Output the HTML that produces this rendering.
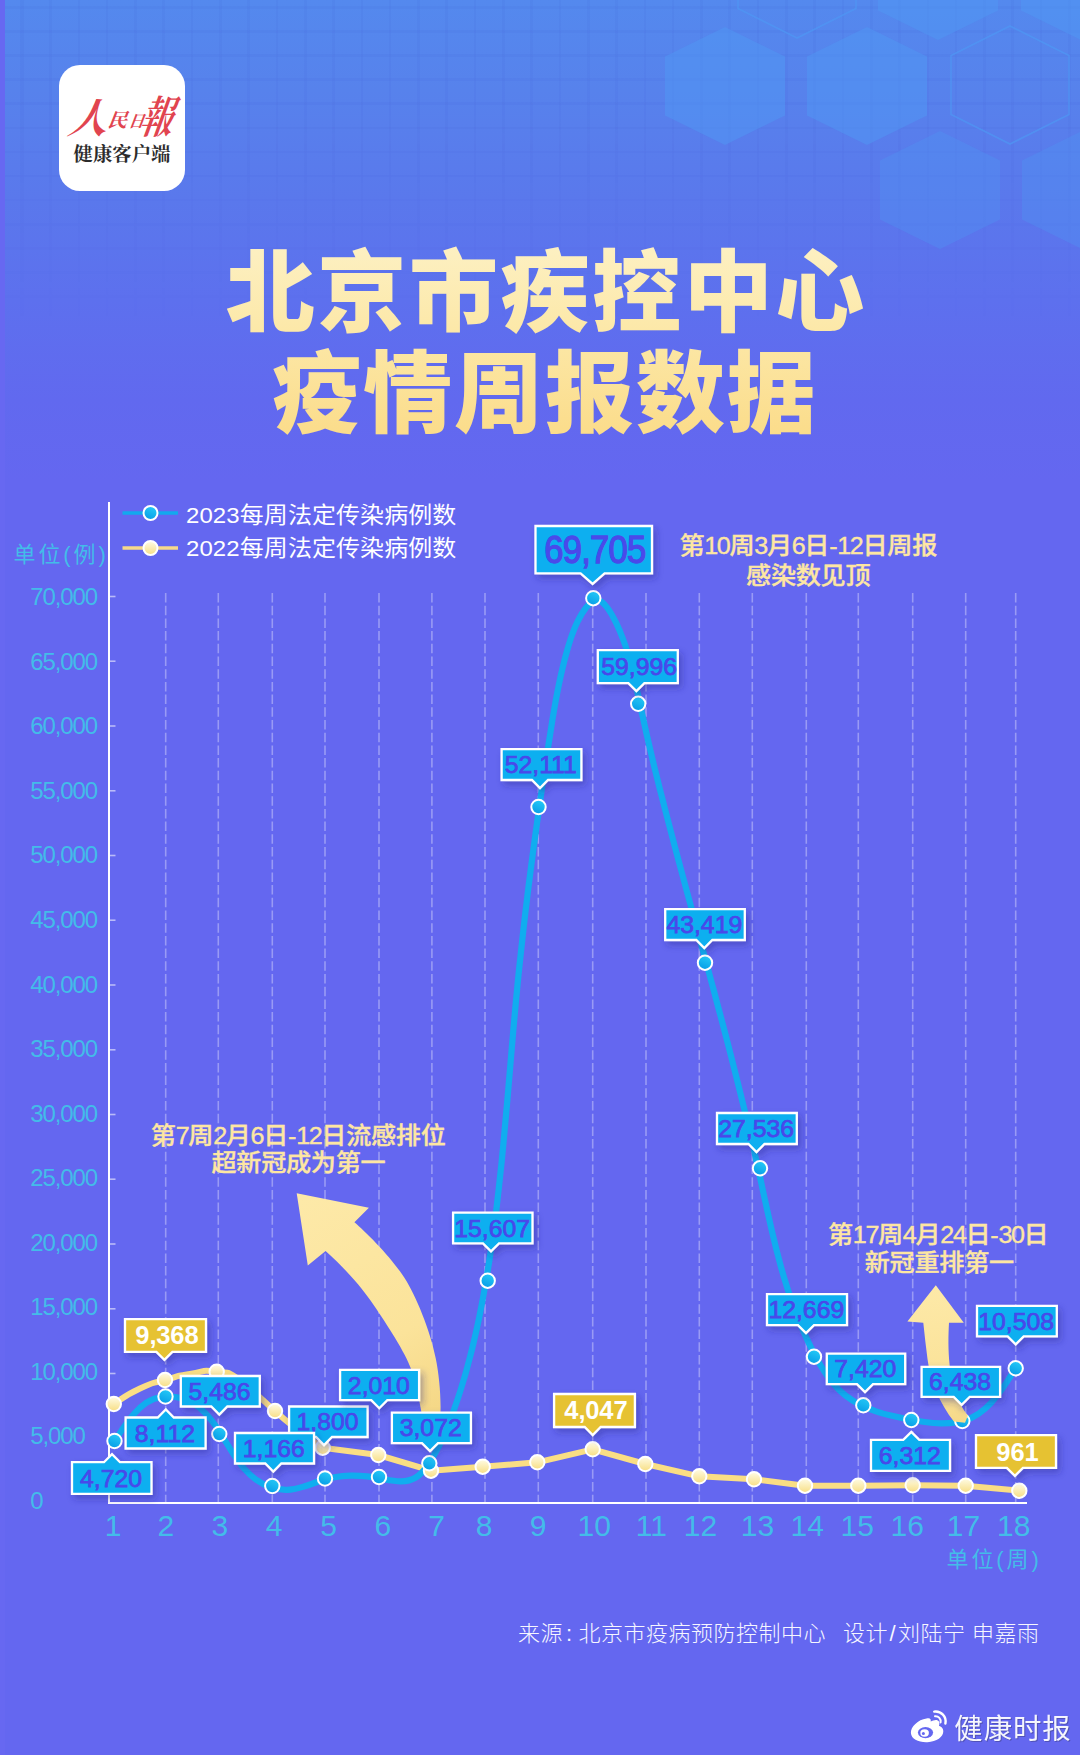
<!DOCTYPE html>
<html lang="zh-CN"><head><meta charset="utf-8"><title>北京市疾控中心疫情周报数据</title>
<style>
html,body{margin:0;padding:0;background:#6467f0;}
body{width:1080px;height:1755px;overflow:hidden;position:relative;font-family:'Liberation Sans','Noto Sans CJK SC',sans-serif;}
#page{position:absolute;left:0;top:0;width:1080px;height:1755px;overflow:hidden;background:#6467f0;}
#topbg{position:absolute;left:4px;top:0;width:1076px;height:520px;
 background:linear-gradient(180deg,#5489ee 0px,#5782ec 90px,#5a78ec 200px,#5d70ee 300px,#6169ef 400px,#6467f0 480px);}
#grid{position:absolute;left:0;top:0;width:1076px;height:360px;
 background-image:repeating-linear-gradient(90deg,rgba(50,60,200,0.05) 0 2.6px,transparent 2.6px 28.3px),repeating-linear-gradient(180deg,rgba(50,60,200,0.05) 0 2.6px,transparent 2.6px 24.1px);
 background-position:17px 6px;
 -webkit-mask-image:linear-gradient(180deg,#000 0,#000 30%,transparent 90%);mask-image:linear-gradient(180deg,#000 0,#000 30%,transparent 90%);}
#logo{position:absolute;left:59px;top:65px;width:126px;height:126px;border-radius:21px;background:#fff;}
svg text{font-family:'Liberation Sans','Noto Sans CJK SC',sans-serif;}
svg .sf text, svg text.sf{font-family:'Liberation Serif','Noto Serif CJK SC',serif;}
</style></head><body><div id="page">
<div id="topbg"><div id="grid"></div></div>

<svg id="hex" width="1080" height="300" viewBox="0 0 1080 300" style="position:absolute;left:0;top:0">
<path d="M725.0 27.0 L785.0 56.5 L785.0 115.5 L725.0 145.0 L665.0 115.5 L665.0 56.5 Z" fill="#4f97f3" fill-opacity="0.50"/>
<path d="M867.0 27.0 L927.0 56.5 L927.0 115.5 L867.0 145.0 L807.0 115.5 L807.0 56.5 Z" fill="#4f97f3" fill-opacity="0.50"/>
<path d="M938.0 -78.0 L998.0 -48.5 L998.0 10.5 L938.0 40.0 L878.0 10.5 L878.0 -48.5 Z" fill="#4f97f3" fill-opacity="0.50"/>
<path d="M1081.0 -78.0 L1141.0 -48.5 L1141.0 10.5 L1081.0 40.0 L1021.0 10.5 L1021.0 -48.5 Z" fill="#4f97f3" fill-opacity="0.50"/>
<path d="M940.0 131.0 L1000.0 160.5 L1000.0 219.5 L940.0 249.0 L880.0 219.5 L880.0 160.5 Z" fill="#4f97f3" fill-opacity="0.32"/>
<path d="M1082.0 131.0 L1142.0 160.5 L1142.0 219.5 L1082.0 249.0 L1022.0 219.5 L1022.0 160.5 Z" fill="#4f97f3" fill-opacity="0.32"/>
<path d="M1010.0 26.0 L1069.0 55.5 L1069.0 114.5 L1010.0 144.0 L951.0 114.5 L951.0 55.5 Z" fill="none" stroke="#4f97f3" stroke-opacity="0.7" stroke-width="1.6"/>
<path d="M797.0 -80.0 L856.0 -50.5 L856.0 8.5 L797.0 38.0 L738.0 8.5 L738.0 -50.5 Z" fill="none" stroke="#4f97f3" stroke-opacity="0.7" stroke-width="1.6"/>
</svg>
<div id="logo"><svg width="126" height="126" viewBox="0 0 126 126" style="position:absolute;left:0;top:0">
<g class="sf" font-weight="700" fill="#e1444f" font-style="italic">
<text transform="translate(8,68) skewX(-10) scale(0.95,1)" font-size="41">人</text>
<text transform="translate(48,62) skewX(-8)" font-size="19.5">民</text>
<text transform="translate(69,62) skewX(-8) scale(0.95,1)" font-size="16.5">日</text>
<text transform="translate(79.5,67.5) skewX(-10) scale(0.74,1)" font-size="44">報</text>
</g>
<text class="sf" x="63" y="95.5" text-anchor="middle" font-weight="700" font-size="19.4" fill="#2b2b2b">健康客户端</text>
</svg></div>
<svg id="main" width="1080" height="1755" viewBox="0 0 1080 1755" style="position:absolute;left:0;top:0">
<defs>
<linearGradient id="tg" gradientUnits="userSpaceOnUse" x1="0" y1="246" x2="0" y2="436"><stop offset="0" stop-color="#fdf0c2"/><stop offset="0.45" stop-color="#fce8a8"/><stop offset="1" stop-color="#fbdc8a"/></linearGradient>
<linearGradient id="cb" x1="0.7" y1="0" x2="0.3" y2="1"><stop offset="0" stop-color="#26cbf8"/><stop offset="1" stop-color="#079ce6"/></linearGradient>
<linearGradient id="cy" x1="0.5" y1="0" x2="0.5" y2="1"><stop offset="0" stop-color="#fffce6"/><stop offset="1" stop-color="#f7de83"/></linearGradient>
<linearGradient id="ag" gradientUnits="userSpaceOnUse" x1="300" y1="1200" x2="440" y2="1440"><stop offset="0" stop-color="#fde9a8"/><stop offset="0.6" stop-color="#fbe39a"/><stop offset="1" stop-color="#f3d480"/></linearGradient>
<linearGradient id="ag2" gradientUnits="userSpaceOnUse" x1="936" y1="1285" x2="955" y2="1422"><stop offset="0" stop-color="#fde9a8"/><stop offset="0.6" stop-color="#fbe39a"/><stop offset="1" stop-color="#f6d98a"/></linearGradient>
<filter id="sh" x="-20%" y="-30%" width="150%" height="180%"><feDropShadow dx="3" dy="4" stdDeviation="3.5" flood-color="#25258c" flood-opacity="0.38"/></filter>
</defs>
<g font-weight="900" fill="url(#tg)" text-anchor="middle">
<text x="546.3" y="324" font-size="89" letter-spacing="2.6">北京市疾控中心</text>
<text x="545" y="425" font-size="89" letter-spacing="1.9">疫情周报数据</text>
</g>
<g stroke="#ffffff" stroke-opacity="0.34" stroke-width="1.6" stroke-dasharray="9.5 3.2" fill="none">
<path d="M165.7 593 V1502"/>
<path d="M218.3 593 V1502"/>
<path d="M272.3 593 V1502"/>
<path d="M325.0 593 V1502"/>
<path d="M379.0 593 V1502"/>
<path d="M431.9 593 V1502"/>
<path d="M485.0 593 V1502"/>
<path d="M538.3 593 V1502"/>
<path d="M592.7 593 V1502"/>
<path d="M646.0 593 V1502"/>
<path d="M699.3 593 V1502"/>
<path d="M752.3 593 V1502"/>
<path d="M806.3 593 V1502"/>
<path d="M858.3 593 V1502"/>
<path d="M912.7 593 V1502"/>
<path d="M965.7 593 V1502"/>
<path d="M1015.7 593 V1502"/>
</g>
<path d="M109 502 V1503 H1027" fill="none" stroke="#fff" stroke-width="2"/>
<g stroke="#ffffff" stroke-opacity="0.55" stroke-width="1.6">
<path d="M110 1438.2 H115.5"/>
<path d="M110 1373.5 H115.5"/>
<path d="M110 1308.8 H115.5"/>
<path d="M110 1244.0 H115.5"/>
<path d="M110 1179.2 H115.5"/>
<path d="M110 1114.5 H115.5"/>
<path d="M110 1049.8 H115.5"/>
<path d="M110 985.0 H115.5"/>
<path d="M110 920.2 H115.5"/>
<path d="M110 855.5 H115.5"/>
<path d="M110 790.8 H115.5"/>
<path d="M110 726.0 H115.5"/>
<path d="M110 661.2 H115.5"/>
<path d="M110 596.5 H115.5"/>
</g>
<g font-size="24" fill="#43bce9" letter-spacing="-1.1">
<text x="30.3" y="1508.9">0</text>
<text x="30.3" y="1444.4">5,000</text>
<text x="30.3" y="1379.8">10,000</text>
<text x="30.3" y="1315.2">15,000</text>
<text x="30.3" y="1250.7">20,000</text>
<text x="30.3" y="1186.2">25,000</text>
<text x="30.3" y="1121.6">30,000</text>
<text x="30.3" y="1057.1">35,000</text>
<text x="30.3" y="992.5">40,000</text>
<text x="30.3" y="928.0">45,000</text>
<text x="30.3" y="863.4">50,000</text>
<text x="30.3" y="798.9">55,000</text>
<text x="30.3" y="734.3">60,000</text>
<text x="30.3" y="669.8">65,000</text>
<text x="30.3" y="605.2">70,000</text>
</g>
<g font-size="30" fill="#43bce9" text-anchor="middle">
<text x="113.0" y="1536">1</text>
<text x="165.8" y="1536">2</text>
<text x="219.8" y="1536">3</text>
<text x="274.0" y="1536">4</text>
<text x="328.5" y="1536">5</text>
<text x="382.8" y="1536">6</text>
<text x="436.7" y="1536">7</text>
<text x="484.2" y="1536">8</text>
<text x="538.0" y="1536">9</text>
<text x="594.2" y="1536">10</text>
<text x="651.3" y="1536">11</text>
<text x="700.5" y="1536">12</text>
<text x="757.5" y="1536">13</text>
<text x="807.2" y="1536">14</text>
<text x="857.2" y="1536">15</text>
<text x="907.2" y="1536">16</text>
<text x="963.5" y="1536">17</text>
<text x="1013.7" y="1536">18</text>
</g>
<text x="13.5" y="561.5" font-size="22" fill="#43bce9" letter-spacing="2.9">单位(例)</text>
<text x="946.5" y="1567" font-size="22" fill="#43bce9" letter-spacing="2.9">单位(周)</text>
<path d="M122.5 513 H178" stroke="#12a9ee" stroke-width="3.6"/><circle cx="150.5" cy="513" r="7" fill="url(#cb)" stroke="#fff" stroke-width="2"/>
<path d="M122.5 548 H178" stroke="#f6d98a" stroke-width="3.6"/><circle cx="150.5" cy="548" r="7" fill="url(#cy)" stroke="#fff" stroke-width="2"/>
<g font-size="22.2" fill="#ffffff" letter-spacing="0.1" font-weight="400"><text transform="translate(186,522.6) scale(1.08,1)">2023每周法定传染病例数</text><text transform="translate(186,555.6) scale(1.08,1)">2022每周法定传染病例数</text></g>
<path d="M113.8 1404.0 C122.5 1398.8 122.9 1396.5 140.0 1388.5 C157.1 1380.5 148.3 1384.8 165.0 1380.0 C181.7 1375.2 172.8 1376.8 190.0 1374.0 C207.2 1371.2 200.0 1369.7 216.7 1371.7 C233.4 1373.7 225.0 1370.9 240.0 1380.0 C255.0 1389.1 250.0 1388.7 261.7 1399.0 C273.4 1409.3 262.9 1400.7 275.0 1411.0 C287.1 1421.3 282.1 1417.8 298.0 1430.0 C313.9 1442.2 314.5 1441.8 322.7 1447.7 L378.3 1455.0 L431.0 1470.7 L482.7 1466.7 L537.3 1462.3 L592.7 1449.3 L645.3 1464.0 L699.3 1476.3 L754.0 1479.3 L805.0 1485.7 L858.3 1485.7 L912.7 1485.3 L965.7 1485.7 L1019.3 1490.7" fill="none" stroke="#fade84" stroke-width="6" stroke-linecap="round" stroke-linejoin="round"/>
<path d="M114.5 1441.0 C117.1 1437.4 120.0 1432.9 123.1 1428.2 C126.3 1423.5 129.8 1418.6 133.7 1414.2 C137.5 1409.7 141.8 1405.7 146.5 1402.6 C151.3 1399.6 156.5 1397.7 162.0 1397.0 C167.4 1396.2 173.1 1396.4 178.4 1397.6 C183.8 1398.7 188.9 1400.7 193.4 1403.4 C198.0 1406.1 202.0 1409.5 205.6 1413.3 C209.3 1417.2 212.6 1421.5 215.8 1426.1 C218.9 1430.7 221.9 1435.5 224.9 1440.4 C227.9 1445.3 230.9 1450.2 234.0 1455.0 C237.2 1459.7 240.5 1464.3 244.1 1468.5 C247.8 1472.7 251.7 1476.5 256.2 1479.7 C260.7 1482.9 265.7 1485.6 270.9 1487.3 C276.1 1489.1 281.5 1490.0 286.9 1489.9 C292.2 1489.8 297.5 1488.6 302.8 1486.9 C308.0 1485.3 313.3 1483.3 318.5 1481.5 C323.8 1479.6 329.1 1478.1 334.4 1477.2 C339.8 1476.2 345.2 1475.7 350.6 1475.6 C356.1 1475.5 361.6 1475.8 367.2 1476.4 C372.8 1477.1 378.5 1478.1 384.3 1479.2 C390.0 1480.3 395.8 1481.4 401.1 1481.3 C406.5 1481.3 411.5 1480.1 415.8 1477.5 C420.1 1474.9 423.7 1470.9 426.9 1466.4 C430.1 1461.9 433.0 1457.2 435.6 1452.3 C438.3 1447.5 440.8 1442.5 443.1 1437.4 C445.4 1432.3 447.5 1427.2 449.5 1422.0 C451.5 1416.8 453.4 1411.5 455.2 1406.2 C457.1 1401.0 458.8 1395.7 460.5 1390.4 C462.1 1385.1 463.7 1379.8 465.3 1374.5 C466.8 1369.2 468.2 1363.9 469.6 1358.5 C471.0 1353.2 472.4 1347.9 473.6 1342.5 C474.9 1337.1 476.1 1331.8 477.3 1326.4 C478.5 1321.0 479.6 1315.6 480.6 1310.2 C481.7 1304.9 482.7 1299.5 483.7 1294.0 C484.7 1288.6 485.6 1283.2 486.5 1277.8 C487.5 1272.4 488.3 1267.0 489.2 1261.5 C490.0 1256.1 490.8 1250.7 491.6 1245.2 C492.4 1239.8 493.1 1234.4 493.9 1228.9 C494.6 1223.5 495.3 1218.0 496.0 1212.5 C496.6 1207.1 497.3 1201.6 497.9 1196.2 C498.5 1190.7 499.2 1185.2 499.7 1179.8 C500.3 1174.3 500.9 1168.8 501.5 1163.3 C502.0 1157.8 502.6 1152.4 503.1 1146.9 C503.6 1141.4 504.1 1135.9 504.6 1130.4 C505.1 1124.9 505.6 1119.4 506.1 1113.9 C506.6 1108.4 507.1 1102.9 507.6 1097.4 C508.1 1091.9 508.5 1086.4 509.0 1080.9 C509.5 1075.4 509.9 1069.9 510.4 1064.4 C510.9 1058.9 511.3 1053.4 511.8 1047.9 C512.3 1042.4 512.8 1036.9 513.2 1031.4 C513.7 1025.9 514.2 1020.4 514.7 1014.9 C515.2 1009.4 515.7 1003.9 516.2 998.4 C516.8 992.9 517.3 987.4 517.8 981.9 C518.4 976.4 518.9 970.9 519.5 965.4 C520.1 959.9 520.7 954.4 521.3 948.9 C521.9 943.4 522.5 937.9 523.1 932.4 C523.7 926.9 524.4 921.4 525.0 915.9 C525.6 910.4 526.3 904.9 527.0 899.4 C527.6 893.9 528.3 888.5 529.0 883.0 C529.7 877.5 530.4 872.0 531.1 866.6 C531.8 861.1 532.6 855.6 533.3 850.2 C534.0 844.7 534.8 839.2 535.5 833.8 C536.3 828.3 537.0 822.9 537.8 817.4 C538.6 812.0 539.3 806.5 540.1 801.1 C540.9 795.7 541.7 790.2 542.5 784.8 C543.3 779.4 544.1 773.9 544.9 768.5 C545.7 763.1 546.6 757.7 547.4 752.3 C548.2 746.9 549.0 741.5 549.9 736.1 C550.7 730.7 551.6 725.3 552.4 719.9 C553.3 714.5 554.2 709.1 555.2 703.7 C556.1 698.4 557.2 693.0 558.3 687.5 C559.4 682.1 560.5 676.7 561.8 671.3 C563.1 665.8 564.4 660.4 565.9 654.9 C567.4 649.4 569.0 643.9 570.8 638.4 C572.7 632.9 574.7 627.4 577.3 622.1 C579.9 616.7 583.1 611.2 586.6 607.0 C590.2 602.8 593.9 600.0 597.5 600.4 C601.0 600.7 604.4 603.7 607.5 608.0 C610.6 612.2 613.5 617.5 616.0 622.7 C618.6 627.9 620.8 633.2 622.8 638.5 C624.8 643.7 626.6 649.1 628.2 654.4 C629.8 659.7 631.2 665.1 632.5 670.4 C633.9 675.8 635.1 681.2 636.2 686.5 C637.4 691.9 638.5 697.3 639.7 702.7 C640.8 708.1 642.0 713.5 643.2 718.8 C644.4 724.2 645.6 729.6 646.8 735.0 C648.0 740.3 649.3 745.7 650.6 751.1 C651.8 756.4 653.1 761.8 654.4 767.2 C655.7 772.5 657.1 777.9 658.4 783.2 C659.7 788.6 661.1 793.9 662.5 799.3 C663.8 804.6 665.2 810.0 666.6 815.3 C668.0 820.6 669.4 826.0 670.8 831.3 C672.2 836.6 673.6 842.0 675.0 847.3 C676.4 852.6 677.9 858.0 679.3 863.3 C680.7 868.6 682.2 873.9 683.6 879.3 C685.0 884.6 686.5 889.9 687.9 895.2 C689.4 900.5 690.8 905.9 692.3 911.2 C693.7 916.5 695.2 921.8 696.6 927.1 C698.1 932.4 699.5 937.8 700.9 943.1 C702.4 948.4 703.8 953.7 705.3 959.0 C706.7 964.3 708.2 969.6 709.6 975.0 C711.0 980.3 712.5 985.6 713.9 990.9 C715.3 996.2 716.7 1001.6 718.1 1006.9 C719.6 1012.2 721.0 1017.5 722.4 1022.9 C723.8 1028.2 725.2 1033.5 726.6 1038.8 C728.0 1044.2 729.3 1049.5 730.7 1054.8 C732.1 1060.2 733.4 1065.5 734.8 1070.9 C736.2 1076.2 737.5 1081.6 738.8 1086.9 C740.2 1092.3 741.5 1097.6 742.8 1103.0 C744.1 1108.4 745.4 1113.7 746.7 1119.1 C748.0 1124.5 749.3 1129.9 750.5 1135.2 C751.8 1140.6 753.0 1146.0 754.3 1151.4 C755.5 1156.8 756.7 1162.2 757.9 1167.6 C759.1 1173.0 760.3 1178.5 761.5 1183.9 C762.6 1189.3 763.8 1194.7 765.0 1200.1 C766.2 1205.6 767.4 1211.0 768.6 1216.4 C769.8 1221.8 771.0 1227.2 772.3 1232.6 C773.6 1238.0 774.9 1243.4 776.2 1248.7 C777.6 1254.1 779.0 1259.4 780.4 1264.8 C781.9 1270.1 783.4 1275.4 785.0 1280.7 C786.6 1285.9 788.3 1291.2 790.0 1296.4 C791.8 1301.6 793.6 1306.8 795.5 1312.0 C797.5 1317.1 799.5 1322.2 801.7 1327.3 C803.8 1332.4 806.1 1337.4 808.5 1342.4 C810.8 1347.4 813.3 1352.3 816.0 1357.2 C818.6 1362.1 821.4 1366.9 824.4 1371.5 C827.4 1376.2 830.7 1380.6 834.2 1384.7 C837.7 1388.7 841.6 1392.5 845.8 1395.8 C850.0 1399.0 854.6 1401.9 859.4 1404.4 C864.2 1406.8 869.3 1409.0 874.6 1410.8 C879.8 1412.7 885.3 1414.3 890.8 1415.6 C896.4 1417.0 902.0 1418.2 907.6 1419.3 C913.3 1420.3 919.0 1421.3 924.6 1422.0 C930.2 1422.8 935.7 1423.3 941.2 1423.4 C946.6 1423.4 951.9 1423.1 957.1 1422.2 C962.2 1421.3 967.2 1419.8 971.9 1417.6 C976.6 1415.4 981.1 1412.3 985.3 1408.5 C989.5 1404.8 993.4 1400.4 997.0 1395.8 C1000.7 1391.2 1004.0 1386.4 1007.1 1381.6 C1010.1 1376.9 1012.9 1372.4 1015.4 1368.3" fill="none" stroke="#10adef" stroke-width="6.2" stroke-linecap="round" stroke-linejoin="round"/>
<circle cx="113.8" cy="1404.0" r="7.2" fill="url(#cy)" stroke="#fff" stroke-width="2"/>
<circle cx="165.0" cy="1380.0" r="7.2" fill="url(#cy)" stroke="#fff" stroke-width="2"/>
<circle cx="216.7" cy="1371.7" r="7.2" fill="url(#cy)" stroke="#fff" stroke-width="2"/>
<circle cx="275.0" cy="1411.0" r="7.2" fill="url(#cy)" stroke="#fff" stroke-width="2"/>
<circle cx="322.7" cy="1447.7" r="7.2" fill="url(#cy)" stroke="#fff" stroke-width="2"/>
<circle cx="378.3" cy="1455.0" r="7.2" fill="url(#cy)" stroke="#fff" stroke-width="2"/>
<circle cx="431.0" cy="1470.7" r="7.2" fill="url(#cy)" stroke="#fff" stroke-width="2"/>
<circle cx="482.7" cy="1466.7" r="7.2" fill="url(#cy)" stroke="#fff" stroke-width="2"/>
<circle cx="537.3" cy="1462.3" r="7.2" fill="url(#cy)" stroke="#fff" stroke-width="2"/>
<circle cx="592.7" cy="1449.3" r="7.2" fill="url(#cy)" stroke="#fff" stroke-width="2"/>
<circle cx="645.3" cy="1464.0" r="7.2" fill="url(#cy)" stroke="#fff" stroke-width="2"/>
<circle cx="699.3" cy="1476.3" r="7.2" fill="url(#cy)" stroke="#fff" stroke-width="2"/>
<circle cx="754.0" cy="1479.3" r="7.2" fill="url(#cy)" stroke="#fff" stroke-width="2"/>
<circle cx="805.0" cy="1485.7" r="7.2" fill="url(#cy)" stroke="#fff" stroke-width="2"/>
<circle cx="858.3" cy="1485.7" r="7.2" fill="url(#cy)" stroke="#fff" stroke-width="2"/>
<circle cx="912.7" cy="1485.3" r="7.2" fill="url(#cy)" stroke="#fff" stroke-width="2"/>
<circle cx="965.7" cy="1485.7" r="7.2" fill="url(#cy)" stroke="#fff" stroke-width="2"/>
<circle cx="1019.3" cy="1490.7" r="7.2" fill="url(#cy)" stroke="#fff" stroke-width="2"/>
<circle cx="114.5" cy="1441.0" r="7.2" fill="url(#cb)" stroke="#fff" stroke-width="2"/>
<circle cx="165.5" cy="1396.5" r="7.2" fill="url(#cb)" stroke="#fff" stroke-width="2"/>
<circle cx="219.3" cy="1434.0" r="7.2" fill="url(#cb)" stroke="#fff" stroke-width="2"/>
<circle cx="272.3" cy="1486.0" r="7.2" fill="url(#cb)" stroke="#fff" stroke-width="2"/>
<circle cx="325.0" cy="1478.5" r="7.2" fill="url(#cb)" stroke="#fff" stroke-width="2"/>
<circle cx="379.0" cy="1477.0" r="7.2" fill="url(#cb)" stroke="#fff" stroke-width="2"/>
<circle cx="429.3" cy="1463.3" r="7.2" fill="url(#cb)" stroke="#fff" stroke-width="2"/>
<circle cx="487.7" cy="1280.7" r="7.2" fill="url(#cb)" stroke="#fff" stroke-width="2"/>
<circle cx="538.5" cy="807.0" r="7.2" fill="url(#cb)" stroke="#fff" stroke-width="2"/>
<circle cx="593.3" cy="598.2" r="7.2" fill="url(#cb)" stroke="#fff" stroke-width="2"/>
<circle cx="638.2" cy="703.8" r="7.2" fill="url(#cb)" stroke="#fff" stroke-width="2"/>
<circle cx="705.0" cy="962.7" r="7.2" fill="url(#cb)" stroke="#fff" stroke-width="2"/>
<circle cx="760.0" cy="1168.3" r="7.2" fill="url(#cb)" stroke="#fff" stroke-width="2"/>
<circle cx="814.0" cy="1356.7" r="7.2" fill="url(#cb)" stroke="#fff" stroke-width="2"/>
<circle cx="863.3" cy="1405.3" r="7.2" fill="url(#cb)" stroke="#fff" stroke-width="2"/>
<circle cx="911.3" cy="1420.0" r="7.2" fill="url(#cb)" stroke="#fff" stroke-width="2"/>
<circle cx="962.3" cy="1421.0" r="7.2" fill="url(#cb)" stroke="#fff" stroke-width="2"/>
<circle cx="1015.7" cy="1368.3" r="7.2" fill="url(#cb)" stroke="#fff" stroke-width="2"/>
<path d="M296.7 1193.3 L368.9 1207.8 L354.4 1222.2 C366 1232 392 1258 404.4 1277.8 C416 1296 430 1330 435.6 1357.8 C439 1374 441 1395 440.5 1412 L438 1445 L426 1445 C424 1425 420 1398 411.1 1368.9 C405 1352 388 1326 373.3 1304.4 C364 1291 350 1273 325.6 1251.1 L307.8 1265.6 Z" fill="url(#ag)"/>
<path d="M935.8 1285.3 L963.8 1322.8 L949 1322.8 C948.3 1335 948 1350 949.7 1365.8 C951.5 1385 956 1400 967.8 1415.8 L965 1422.8 L953.9 1421.4 C940 1404 930 1380 927.5 1358.9 C926 1347 924.5 1335 923.3 1322.8 L907.4 1321.6 Z" fill="url(#ag2)"/>
<g filter="url(#sh)"><path d="M72.0 1462.2 H104.0 L112.0 1454.2 L120.0 1462.2 H151.5 V1493.8 H72.0 Z" fill="#0eaff0" stroke="#fff" stroke-width="2.3" stroke-linejoin="miter"/></g><text x="111.0" y="1486.5" font-size="24.8" font-weight="400" fill="#4948ea" text-anchor="middle" stroke="#4948ea" stroke-width="0.75">4,720</text>
<g filter="url(#sh)"><path d="M125.6 1417.5 H157.8 L165.8 1409.5 L173.8 1417.5 H205.6 V1448.5 H125.6 Z" fill="#0eaff0" stroke="#fff" stroke-width="2.3" stroke-linejoin="miter"/></g><text x="164.9" y="1441.5" font-size="24.8" font-weight="400" fill="#4948ea" text-anchor="middle" stroke="#4948ea" stroke-width="0.75">8,112</text>
<g filter="url(#sh)"><path d="M180.8 1376.0 H259.8 V1406.5 H227.3 L219.3 1414.5 L211.3 1406.5 H180.8 Z" fill="#0eaff0" stroke="#fff" stroke-width="2.3" stroke-linejoin="miter"/></g><text x="219.6" y="1399.7" font-size="24.8" font-weight="400" fill="#4948ea" text-anchor="middle" stroke="#4948ea" stroke-width="0.75">5,486</text>
<g filter="url(#sh)"><path d="M289.1 1406.5 H367.6 V1437.0 H332.0 L324.0 1445.0 L316.0 1437.0 H289.1 Z" fill="#0eaff0" stroke="#fff" stroke-width="2.3" stroke-linejoin="miter"/></g><text x="327.6" y="1430.2" font-size="24.8" font-weight="400" fill="#4948ea" text-anchor="middle" stroke="#4948ea" stroke-width="0.75">1,800</text>
<g filter="url(#sh)"><path d="M235.0 1433.0 H314.0 V1463.5 H281.3 L273.3 1471.5 L265.3 1463.5 H235.0 Z" fill="#0eaff0" stroke="#fff" stroke-width="2.3" stroke-linejoin="miter"/></g><text x="273.8" y="1456.8" font-size="24.8" font-weight="400" fill="#4948ea" text-anchor="middle" stroke="#4948ea" stroke-width="0.75">1,166</text>
<g filter="url(#sh)"><path d="M340.1 1369.8 H419.1 V1400.2 H387.3 L379.3 1408.2 L371.3 1400.2 H340.1 Z" fill="#0eaff0" stroke="#fff" stroke-width="2.3" stroke-linejoin="miter"/></g><text x="378.9" y="1393.5" font-size="24.8" font-weight="400" fill="#4948ea" text-anchor="middle" stroke="#4948ea" stroke-width="0.75">2,010</text>
<g filter="url(#sh)"><path d="M391.9 1412.6 H470.9 V1443.1 H438.0 L430.0 1451.1 L422.0 1443.1 H391.9 Z" fill="#0eaff0" stroke="#fff" stroke-width="2.3" stroke-linejoin="miter"/></g><text x="430.7" y="1436.3" font-size="24.8" font-weight="400" fill="#4948ea" text-anchor="middle" stroke="#4948ea" stroke-width="0.75">3,072</text>
<g filter="url(#sh)"><path d="M453.1 1212.6 H532.5 V1243.4 H499.0 L491.0 1251.4 L483.0 1243.4 H453.1 Z" fill="#0eaff0" stroke="#fff" stroke-width="2.3" stroke-linejoin="miter"/></g><text x="492.1" y="1236.5" font-size="24.8" font-weight="400" fill="#4948ea" text-anchor="middle" stroke="#4948ea" stroke-width="0.75">15,607</text>
<g filter="url(#sh)"><path d="M501.6 749.2 H581.4 V780.0 H548.0 L540.0 788.0 L532.0 780.0 H501.6 Z" fill="#0eaff0" stroke="#fff" stroke-width="2.3" stroke-linejoin="miter"/></g><text x="540.8" y="773.1" font-size="24.8" font-weight="400" fill="#4948ea" text-anchor="middle" stroke="#4948ea" stroke-width="0.75">52,111</text>
<g filter="url(#sh)"><path d="M597.8 650.1 H677.8 V683.1 H644.4 L636.4 691.1 L628.4 683.1 H597.8 Z" fill="#0eaff0" stroke="#fff" stroke-width="2.3" stroke-linejoin="miter"/></g><text x="639.2" y="675.1" font-size="24.8" font-weight="400" fill="#4948ea" text-anchor="middle" stroke="#4948ea" stroke-width="0.75">59,996</text>
<g filter="url(#sh)"><path d="M665.2 909.2 H744.8 V940.0 H712.3 L704.3 948.0 L696.3 940.0 H665.2 Z" fill="#0eaff0" stroke="#fff" stroke-width="2.3" stroke-linejoin="miter"/></g><text x="704.3" y="933.1" font-size="24.8" font-weight="400" fill="#4948ea" text-anchor="middle" stroke="#4948ea" stroke-width="0.75">43,419</text>
<g filter="url(#sh)"><path d="M717.0 1113.0 H796.8 V1144.0 H764.5 L756.5 1152.0 L748.5 1144.0 H717.0 Z" fill="#0eaff0" stroke="#fff" stroke-width="2.3" stroke-linejoin="miter"/></g><text x="756.1" y="1137.0" font-size="24.8" font-weight="400" fill="#4948ea" text-anchor="middle" stroke="#4948ea" stroke-width="0.75">27,536</text>
<g filter="url(#sh)"><path d="M767.0 1294.2 H847.0 V1325.1 H814.0 L806.0 1333.1 L798.0 1325.1 H767.0 Z" fill="#0eaff0" stroke="#fff" stroke-width="2.3" stroke-linejoin="miter"/></g><text x="806.3" y="1318.2" font-size="24.8" font-weight="400" fill="#4948ea" text-anchor="middle" stroke="#4948ea" stroke-width="0.75">12,669</text>
<g filter="url(#sh)"><path d="M826.8 1353.6 H905.2 V1384.1 H873.0 L865.0 1392.1 L857.0 1384.1 H826.8 Z" fill="#0eaff0" stroke="#fff" stroke-width="2.3" stroke-linejoin="miter"/></g><text x="865.3" y="1377.3" font-size="24.8" font-weight="400" fill="#4948ea" text-anchor="middle" stroke="#4948ea" stroke-width="0.75">7,420</text>
<g filter="url(#sh)"><path d="M871.0 1439.9 H903.3 L911.3 1431.9 L919.3 1439.9 H950.0 V1470.8 H871.0 Z" fill="#0eaff0" stroke="#fff" stroke-width="2.3" stroke-linejoin="miter"/></g><text x="909.8" y="1463.8" font-size="24.8" font-weight="400" fill="#4948ea" text-anchor="middle" stroke="#4948ea" stroke-width="0.75">6,312</text>
<g filter="url(#sh)"><path d="M921.6 1366.8 H1000.1 V1396.8 H969.7 L961.7 1404.8 L953.7 1396.8 H921.6 Z" fill="#0eaff0" stroke="#fff" stroke-width="2.3" stroke-linejoin="miter"/></g><text x="960.1" y="1390.3" font-size="24.8" font-weight="400" fill="#4948ea" text-anchor="middle" stroke="#4948ea" stroke-width="0.75">6,438</text>
<g filter="url(#sh)"><path d="M977.0 1305.9 H1056.8 V1336.4 H1023.7 L1015.7 1344.4 L1007.7 1336.4 H977.0 Z" fill="#0eaff0" stroke="#fff" stroke-width="2.3" stroke-linejoin="miter"/></g><text x="1016.1" y="1329.7" font-size="24.8" font-weight="400" fill="#4948ea" text-anchor="middle" stroke="#4948ea" stroke-width="0.75">10,508</text>
<g filter="url(#sh)"><path d="M125.0 1319.1 H206.0 V1351.9 H172.4 L164.4 1359.9 L156.4 1351.9 H125.0 Z" fill="#e6c233" stroke="#fff" stroke-width="2.3" stroke-linejoin="miter"/></g><text x="166.9" y="1344.4" font-size="25.5" font-weight="700" fill="#ffffff" text-anchor="middle" letter-spacing="-0.15">9,368</text>
<g filter="url(#sh)"><path d="M554.1 1394.0 H634.9 V1427.0 H600.7 L592.7 1435.0 L584.7 1427.0 H554.1 Z" fill="#e6c233" stroke="#fff" stroke-width="2.3" stroke-linejoin="miter"/></g><text x="595.9" y="1419.4" font-size="25.5" font-weight="700" fill="#ffffff" text-anchor="middle" letter-spacing="-0.15">4,047</text>
<g filter="url(#sh)"><path d="M976.0 1435.2 H1056.0 V1467.9 H1022.9 L1014.9 1475.9 L1006.9 1467.9 H976.0 Z" fill="#e6c233" stroke="#fff" stroke-width="2.3" stroke-linejoin="miter"/></g><text x="1017.4" y="1460.5" font-size="25.5" font-weight="700" fill="#ffffff" text-anchor="middle" letter-spacing="-0.15">961</text>
<g filter="url(#sh)"><path d="M535.5 526.0 H652.0 V573.4 H604.6 L592.6 583.9 L580.6 573.4 H535.5 Z" fill="#0eaff0" stroke="#fff" stroke-width="2.3" stroke-linejoin="miter"/></g><text transform="translate(594.9,563.3) scale(0.9,1)" font-size="38.5" font-weight="400" fill="#4a49ea" text-anchor="middle" stroke="#4a49ea" stroke-width="1.3" letter-spacing="-0.9">69,705</text>
<g font-size="23.5" fill="#fde6a2" stroke="#fde6a2" stroke-width="0.35" text-anchor="middle" font-weight="500" letter-spacing="-0.27">
<text transform="translate(808.2,553.5) scale(1.07,1)">第<tspan letter-spacing="-1.3">10</tspan>周<tspan letter-spacing="-1.3">3</tspan>月<tspan letter-spacing="-1.3">6</tspan>日-<tspan letter-spacing="-1.3">12</tspan>日周报</text><text transform="translate(808.2,584.0) scale(1.07,1)">感染数见顶</text>
<text transform="translate(298.2,1143.6) scale(1.07,1)">第<tspan letter-spacing="-1.3">7</tspan>周<tspan letter-spacing="-1.3">2</tspan>月<tspan letter-spacing="-1.3">6</tspan>日-<tspan letter-spacing="-1.3">12</tspan>日流感排位</text><text transform="translate(298.4,1171.0) scale(1.07,1)">超新冠成为第一</text>
<text transform="translate(938.2,1242.5) scale(1.07,1)">第<tspan letter-spacing="-1.3">17</tspan>周<tspan letter-spacing="-1.3">4</tspan>月<tspan letter-spacing="-1.3">24</tspan>日-<tspan letter-spacing="-1.3">30</tspan>日</text><text transform="translate(939.3,1271.0) scale(1.07,1)">新冠重排第一</text>
</g>
<text y="1641" font-size="22" fill="#f6f6ff" font-weight="300" letter-spacing="0.5" xml:space="preserve"><tspan x="518">来源</tspan><tspan x="566.1">:</tspan><tspan x="578.5"> </tspan><tspan x="578.5">北京市疫病预防控制中心</tspan><tspan x="830">  </tspan><tspan x="843">设计</tspan><tspan x="889.6">/</tspan><tspan x="898">刘陆宁</tspan><tspan x="966"> </tspan><tspan x="972">申嘉雨</tspan></text>
<g id="wb" fill="#fff" stroke="none">
<path d="M926.5 1718.5c-8.5 1-16 8.5-15.6 14.5c.4 6.2 7.8 9.6 16.6 9.2c9-.4 16-5.2 15.8-11.2c-.1-3-2.2-4.6-4.4-5.2c1-2.4.6-4.6-1.2-5.4c-2-.9-5 .2-7 1.200c.4-2.200-.2-4.000-4.200-3.100z"/>
<ellipse cx="925.5" cy="1732.6" rx="7.6" ry="5.6" fill="#6467f0"/>
<ellipse cx="924.6" cy="1733" rx="4.3" ry="3.7" fill="#fff"/>
<circle cx="923.4" cy="1733.6" r="1.5" fill="#6467f0"/>
<path d="M935 1716.200a5.200 5.200 0 0 1 5.600 6.200" fill="none" stroke="#fff" stroke-width="2" stroke-linecap="round"/>
<path d="M934.2 1711.600a10 10 0 0 1 11.200 12" fill="none" stroke="#fff" stroke-width="2.4" stroke-linecap="round"/>
</g>
<text x="954.3" y="1738.7" font-size="28.4" fill="#fff" fill-opacity="0.94" font-weight="400" letter-spacing="0.95" style="filter:drop-shadow(1px 1px 0.5px rgba(60,60,120,0.5))">健康时报</text>
</svg>
<div style="position:absolute;left:0;top:0;width:4.5px;height:1755px;background:#6768f1"></div>
</div></body></html>
